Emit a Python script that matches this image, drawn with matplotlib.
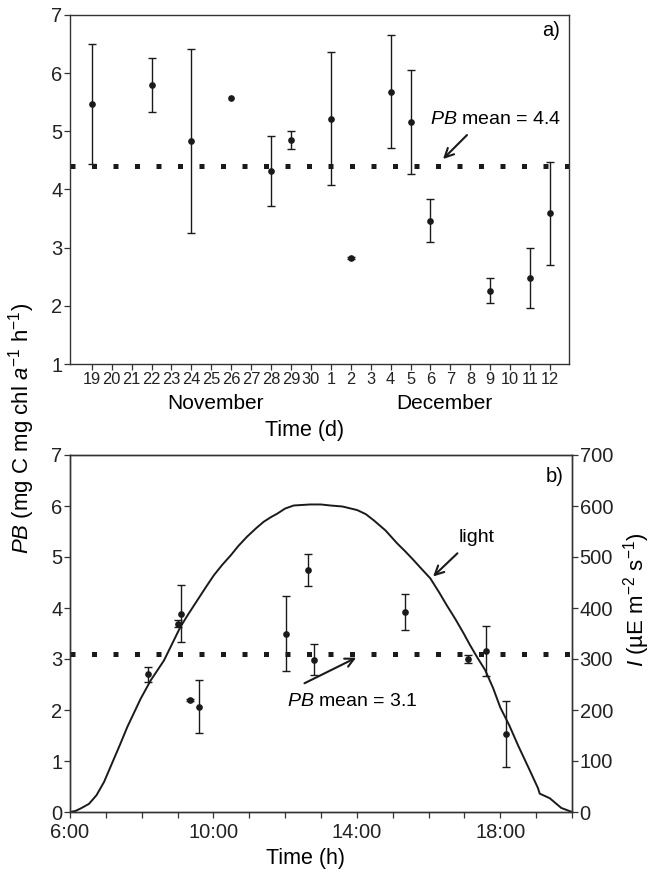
import numpy as np
import matplotlib
matplotlib.use("Agg")
import matplotlib.pyplot as plt

plt.rcParams['font.family'] = ['Liberation Sans', 'DejaVu Sans']
plt.rcParams['mathtext.fontset'] = 'custom'
plt.rcParams['mathtext.rm'] = 'Liberation Sans'
plt.rcParams['mathtext.it'] = 'Liberation Sans:italic'

# --- panel a: daily PB (Nov 19 - Dec 12) ---
nov_days = [str(d) for d in range(19, 31)]
dec_days = [str(d) for d in range(1, 13)]
day_labels = nov_days + dec_days

obs_days = ['N19', 'N22', 'N24', 'N26', 'N28', 'N29', 'D1', 'D2',
            'D4', 'D5', 'D6', 'D9', 'D11', 'D12']
pb_daily = [5.47, 5.80, 4.84, 5.58, 4.32, 4.85, 5.22, 2.82,
            5.68, 5.16, 3.46, 2.26, 2.48, 3.59]
pb_daily_err = [1.03, 0.46, 1.58, np.nan, 0.60, 0.16, 1.14, 0.02,
                0.97, 0.89, 0.37, 0.21, 0.51, 0.88]
pb_daily_mean = 4.4

# --- panel b: diel PB and light ---
obs_hours = [8.18, 9.09, 9.02, 9.36, 9.61, 12.03, 12.63, 12.80,
             15.33, 17.09, 17.59, 18.17]
pb_hourly = [2.70, 3.89, 3.69, 2.20, 2.06, 3.50, 4.75, 2.99,
             3.92, 3.00, 3.15, 1.53]
pb_hourly_err = [0.15, 0.56, 0.07, 0.02, 0.52, 0.74, 0.31, 0.31,
                 0.35, 0.07, 0.49, 0.65]
pb_hourly_mean = 3.1

light_hours = [6.0, 6.15, 6.30, 6.53, 6.74, 6.95, 7.23, 7.40, 7.60, 7.97,
               8.25, 8.62, 9.08, 9.30, 9.55, 9.80, 10.01, 10.25, 10.48,
               10.70, 10.94, 11.20, 11.40, 11.60, 11.78, 12.00, 12.24,
               12.70, 13.00, 13.26, 13.60, 14.01, 14.25, 14.47, 14.80,
               15.12, 15.35, 15.58, 15.80, 16.05, 16.30, 16.51, 16.75,
               16.98, 17.15, 17.35, 17.58, 17.80, 18.0, 18.25, 18.5, 18.8,
               19.05, 19.10, 19.38, 19.7, 20.0]
light_vals = [0, 2, 7, 16, 33, 59, 105, 133, 167, 222,
              258, 297, 363, 388, 415, 442, 464, 485, 503,
              522, 540, 557, 569, 578, 585, 595, 601,
              603, 603, 601, 599, 592, 584, 572, 552,
              527, 511, 494, 477, 458, 430, 405, 378,
              350, 328, 304, 278, 243, 205, 170, 130, 85,
              47, 36, 27, 8, 0]

INK = '#1a1a1a'
DOTS = (0, (1, 3.3))
eb_kw = dict(fmt='o', color=INK, ms=3.8, elinewidth=1.0, capsize=3.2,
             capthick=1.0, zorder=3)


def style_axis(ax):
    for s in ax.spines.values():
        s.set_color('#333333')
        s.set_linewidth(1.0)
    ax.tick_params(direction='out', length=4, width=0.9, colors='#333333',
                   labelcolor='#222222', labelsize=14.5, pad=1.5)


fig = plt.figure(figsize=(6.52, 8.72), dpi=100)

# top panel
ax1 = fig.add_axes([70 / 652, 1 - 364 / 872, 499 / 652, 349 / 872])
idx = []
for d in obs_days:
    i = int(d[1:])
    idx.append(day_labels.index(str(i)) if d[0] == 'N' else 12 + i - 1)
ax1.axhline(pb_daily_mean, ls=DOTS, lw=3.6, color=INK, zorder=2)
ax1.errorbar(idx, pb_daily, yerr=pb_daily_err, **eb_kw)
ax1.set_xlim(-1.09, 23.95)
ax1.set_ylim(1, 7)
ax1.set_xticks(range(len(day_labels)))
ax1.set_xticklabels(day_labels)
ax1.set_yticks(range(1, 8))
style_axis(ax1)
ax1.tick_params(axis='x', labelsize=11.8, pad=2)
ax1.text(6.2, -0.112, 'November', transform=ax1.get_xaxis_transform(),
         ha='center', va='center', fontsize=15)
ax1.text(17.7, -0.112, 'December', transform=ax1.get_xaxis_transform(),
         ha='center', va='center', fontsize=15)
ax1.text(20.27, 5.20, r'$\mathit{PB}$ mean = 4.4', ha='center', va='center',
         fontsize=14)
ax1.annotate('', xy=(17.53, 4.49), xytext=(18.93, 4.97),
             arrowprops=dict(arrowstyle='->', lw=1.5, color=INK,
                             mutation_scale=16))
ax1.text(0.965, 0.955, 'a)', transform=ax1.transAxes, ha='center',
         va='center', fontsize=14.5)
fig.text(305 / 652, 1 - 430 / 872, 'Time (d)', ha='center', va='center',
         fontsize=15.5)

# bottom panel
ax2 = fig.add_axes([70 / 652, 1 - 812 / 872, 502 / 652, 357 / 872])
ax3 = ax2.twinx()
ax3.plot(light_hours, light_vals, color=INK, lw=1.4, zorder=2)
ax3.set_ylim(0, 700)
ax3.set_yticks(range(0, 701, 100))
ax2.set_zorder(ax3.get_zorder() + 1)
ax2.patch.set_visible(False)
ax2.axhline(pb_hourly_mean, ls=DOTS, lw=3.6, color=INK, zorder=2)
ax2.errorbar(obs_hours, pb_hourly, yerr=pb_hourly_err, **eb_kw)
ax2.set_xlim(6, 20)
ax2.set_ylim(0, 7)
ax2.set_yticks(range(0, 8))
ax2.set_xticks(range(6, 21))
ax2.set_xticklabels([f'{h}:00' if h in (6, 10, 14, 18) else ''
                     for h in range(6, 21)])
style_axis(ax2)
style_axis(ax3)
ax2.tick_params(axis='x', pad=4)
ax2.text(13.87, 2.16, r'$\mathit{PB}$ mean = 3.1', ha='center', va='center',
         fontsize=14)
ax2.annotate('', xy=(14.05, 3.05), xytext=(12.47, 2.50),
             arrowprops=dict(arrowstyle='->', lw=1.5, color=INK,
                             mutation_scale=16))
ax2.text(17.35, 5.39, 'light', ha='center', va='center', fontsize=14)
ax2.annotate('', xy=(16.07, 4.58), xytext=(16.86, 5.11),
             arrowprops=dict(arrowstyle='->', lw=1.5, color=INK,
                             mutation_scale=16))
ax2.text(0.965, 0.94, 'b)', transform=ax2.transAxes, ha='center',
         va='center', fontsize=14.5)
fig.text(305 / 652, 1 - 858 / 872, 'Time (h)', ha='center', va='center',
         fontsize=15.5)

fig.text(22 / 652, 1 - 428 / 872,
         r'$\mathit{PB}$ (mg C mg chl $\mathit{a}^{-1}$ h$^{-1}$)',
         rotation=90, ha='center', va='center', fontsize=16)
fig.text(637 / 652, 1 - 600 / 872,
         r'$\mathit{I}$ (µE m$^{-2}$ s$^{-1}$)',
         rotation=90, ha='center', va='center', fontsize=16)

fig.savefig('out.png', dpi=100)
